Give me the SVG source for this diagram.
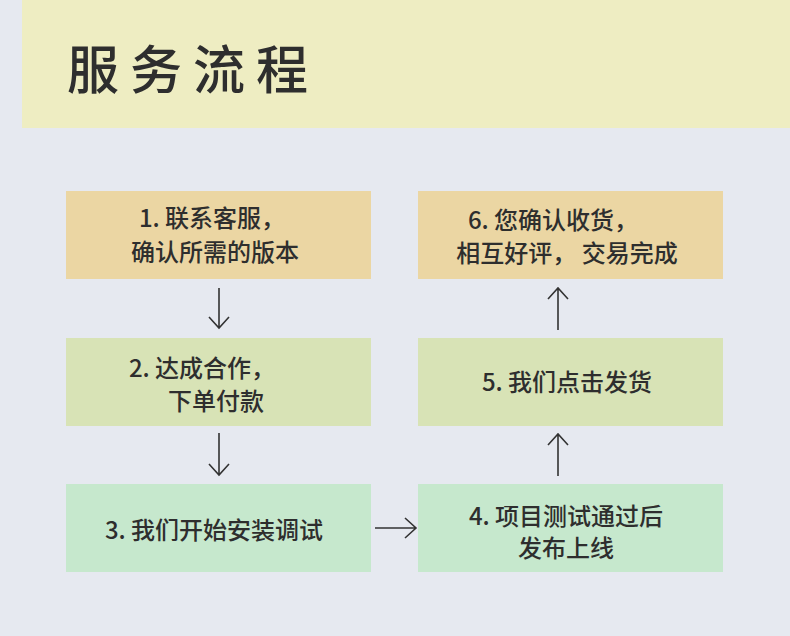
<svg xmlns="http://www.w3.org/2000/svg" width="790" height="636" viewBox="0 0 790 636">
<defs><style>
text{font-family:"Noto Sans CJK SC","Noto Sans",sans-serif;fill:#2e2e2e;font-weight:500;text-anchor:middle}
.t{font-size:24px}
.c path{stroke:#333;stroke-width:1.6;fill:none}
</style></defs>
<rect width="790" height="636" fill="#e6e9f0"/>
<rect x="22" y="0" width="768" height="128" fill="#eeedc2"/>
<text x="193" y="89" style="font-size:52px;letter-spacing:11px">服务流程</text>
<g id="n1"><rect x="66" y="191" width="305" height="88" fill="#ebd6a3"/><text class="t" x="212" y="227">1. 联系客服，</text><text class="t" x="215" y="261">确认所需的版本</text></g>
<g id="n2"><rect x="66" y="338" width="305" height="88" fill="#d8e3b6"/><text class="t" x="202" y="377">2. 达成合作，</text><text class="t" x="216" y="410">下单付款</text></g>
<g id="n3"><rect x="66" y="484" width="305" height="88" fill="#c6e8cd"/><text class="t" x="214" y="539">3. 我们开始安装调试</text></g>
<g id="n4"><rect x="418" y="484" width="305" height="88" fill="#c6e8cd"/><text class="t" x="566" y="525">4. 项目测试通过后</text><text class="t" x="566" y="557">发布上线</text></g>
<g id="n5"><rect x="418" y="338" width="305" height="88" fill="#d8e3b6"/><text class="t" x="567" y="391">5. 我们点击发货</text></g>
<g id="n6"><rect x="418" y="191" width="305" height="88" fill="#ebd6a3"/><text class="t" x="553" y="229">6. 您确认收货，</text><text class="t" x="567" y="262">相互好评，  交易完成</text></g>
<g class="c">
<path d="M219 288V328M209 317L219 328L229 317"/>
<path d="M219 433V475M209 464L219 475L229 464"/>
<path d="M375 528H416M405 518L416 528L405 538"/>
<path d="M558 476V434M548 445L558 434L568 445"/>
<path d="M558 330V288M548 299L558 288L568 299"/>
</g>
</svg>
